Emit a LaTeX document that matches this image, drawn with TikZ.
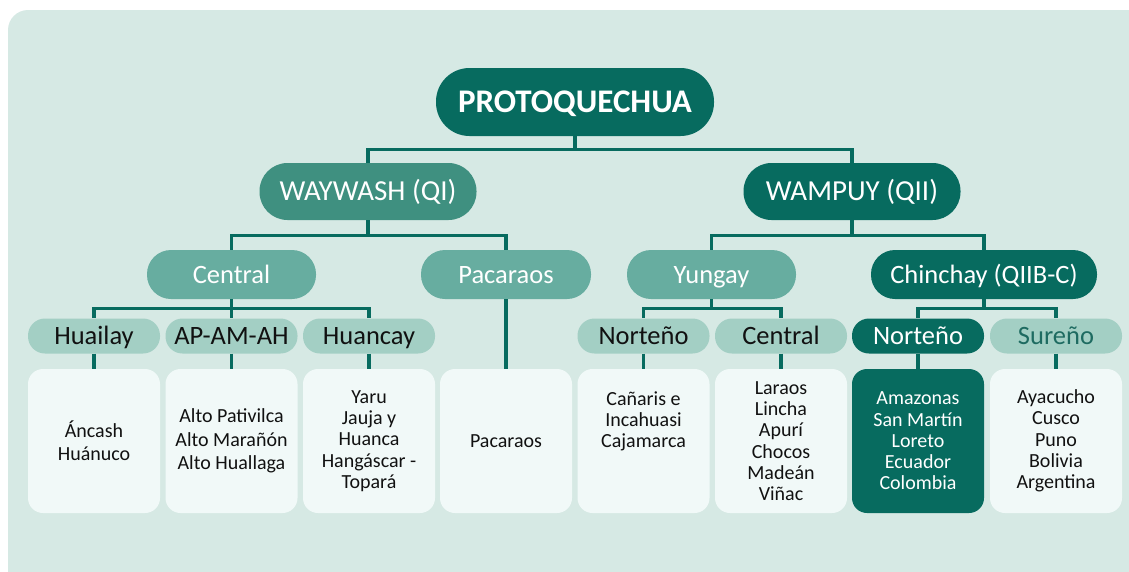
\documentclass[tikz,border=0pt]{standalone}
\usepackage{fontspec}
\setmainfont{Carlito}
\definecolor{bg}{HTML}{D6E9E4}
\definecolor{dark}{HTML}{076B5F}
\definecolor{mid}{HTML}{3F9080}
\definecolor{midl}{HTML}{67ADA0}
\definecolor{lite}{HTML}{A3CFC4}
\definecolor{boxc}{HTML}{F1F9F8}
\definecolor{ink}{HTML}{111111}
\definecolor{sur}{HTML}{1E6B61}
\begin{document}
\begin{tikzpicture}[x=1pt,y=-1pt,
  base/.style={inner sep=0pt, text depth=0pt},
  topnode/.style={base, fill=dark, text=white, font=\fontsize{33}{40}\selectfont\bfseries,
    text height=21pt, minimum width=278pt, minimum height=68pt, rounded corners=33.5pt},
  lone/.style={base, text=white, font=\fontsize{29}{35}\selectfont, text height=18.6pt,
    minimum width=217pt, minimum height=57pt, rounded corners=28pt},
  ltwo/.style={base, text=white, font=\fontsize{26.5}{32}\selectfont, text height=17pt,
    minimum height=49pt, rounded corners=24pt},
  lthree/.style={base, font=\fontsize{26.5}{32}\selectfont, text height=17pt,
    minimum width=132pt, minimum height=35pt, rounded corners=17pt},
  leaf/.style={inner sep=0pt, align=center, fill=boxc, text=ink,
    minimum width=132pt, minimum height=144pt, rounded corners=15pt},
  wide/.style={font=\fontsize{20}{23.3}\selectfont},
  tight/.style={font=\fontsize{20}{21.3}\selectfont},
  conn/.style={draw=dark, line width=3.2pt}
]
\path[use as bounding box] (0,0) rectangle (1129,571);
\clip (0,0) rectangle (1129,571);
\fill[bg, rounded corners=20pt] (8,10) rectangle (1170,610);

% nodes
\node[topnode] (proto) at (575,102) {PROTOQUECHUA};
\node[lone, fill=mid] (way) at (368,191.5) {WAYWASH (QI)};
\node[lone, fill=dark] (wam) at (852,191.5) {WAMPUY (QII)};

\node[ltwo, fill=midl, minimum width=169pt] (cen) at (231.5,274.5) {Central};
\node[ltwo, fill=midl, minimum width=170pt] (pac) at (506,274.5) {Pacaraos};
\node[ltwo, fill=midl, minimum width=169pt] (yun) at (711.5,274.5) {Yungay};
\node[ltwo, fill=dark, minimum width=226pt] (chi) at (984,274.5) {Chinchay (QIIB-C)};

\node[lthree, fill=lite, text=ink] (hua) at (94,336) {Huailay};
\node[lthree, fill=lite, text=ink] (apa) at (231.5,336) {AP-AM-AH};
\node[lthree, fill=lite, text=ink] (huc) at (369,336) {Huancay};
\node[lthree, fill=lite, text=ink] (yno) at (643.5,336) {Norteño};
\node[lthree, fill=lite, text=ink] (yce) at (781,336) {Central};
\node[lthree, fill=dark, text=white] (cno) at (918,336) {Norteño};
\node[lthree, fill=lite, text=sur] (csu) at (1056,336) {Sureño};

\node[leaf, wide] (b1) at (94,441) {Áncash\\Huánuco};
\node[leaf, wide] (b2) at (231.5,441) {Alto Pativilca\\Alto Marañón\\Alto Huallaga};
\node[leaf, tight] (b3) at (369,441) {Yaru\\Jauja y\\Huanca\\Hangáscar -\\Topará};
\node[leaf, tight] (b4) at (506,441) {Pacaraos};
\node[leaf, tight] (b5) at (643.5,441) {Cañaris e\\Incahuasi\\Cajamarca\\~\\~};
\node[leaf, tight] (b6) at (781,441) {Laraos\\Lincha\\Apurí\\Chocos\\Madeán\\Viñac};
\node[leaf, tight, fill=dark, text=white] (b7) at (918,441) {Amazonas\\San Martín\\Loreto\\Ecuador\\Colombia};
\node[leaf, tight] (b8) at (1056,441) {Ayacucho\\Cusco\\Puno\\Bolivia\\Argentina};

% connectors
\draw[conn] (proto.south) -- ++(0,13) -| (way.north);
\draw[conn] (proto.south) -- ++(0,13) -| (wam.north);
\draw[conn] (way.south) -- ++(0,15) -| (cen.north);
\draw[conn] (way.south) -- ++(0,15) -| (pac.north);
\draw[conn] (wam.south) -- ++(0,15) -| (yun.north);
\draw[conn] (wam.south) -- ++(0,15) -| (chi.north);
\draw[conn] (cen.south) -- ++(0,9) -| (hua.north);
\draw[conn] (cen.south) -- (apa.north);
\draw[conn] (cen.south) -- ++(0,9) -| (huc.north);
\draw[conn] (yun.south) -- ++(0,9) -| (yno.north);
\draw[conn] (yun.south) -- ++(0,9) -| (yce.north);
\draw[conn] (chi.south) -- ++(0,9) -| (cno.north);
\draw[conn] (chi.south) -- ++(0,9) -| (csu.north);
\draw[conn] (hua.south) -- (b1.north);
\draw[conn] (apa.south) -- (b2.north);
\draw[conn] (huc.south) -- (b3.north);
\draw[conn] (pac.south) -- (b4.north);
\draw[conn] (yno.south) -- (b5.north);
\draw[conn] (yce.south) -- (b6.north);
\draw[conn] (cno.south) -- (b7.north);
\draw[conn] (csu.south) -- (b8.north);
\end{tikzpicture}
\end{document}
